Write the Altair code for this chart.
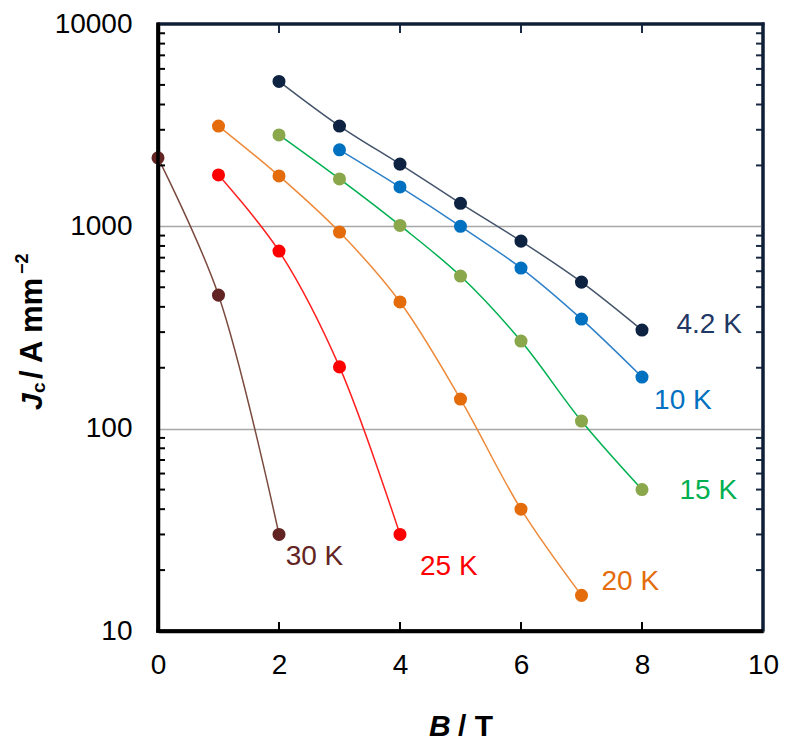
import altair as alt
import pandas as pd

# ---- data ----
B_42 = [2, 3, 4, 5, 6, 7, 8]
J_42 = [5200, 3130, 2030, 1300, 845, 530, 307]
B_10 = [3, 4, 5, 6, 7, 8]
J_10 = [2390, 1565, 1000, 622, 348, 180]
B_15 = [2, 3, 4, 5, 6, 7, 8]
J_15 = [2830, 1715, 1010, 568, 271, 109, 50]
B_20 = [1, 2, 3, 4, 5, 6, 7]
J_20 = [3130, 1775, 937, 423, 140, 40, 15]
B_25 = [1, 2, 3, 4]
J_25 = [1795, 755, 202, 30]
B_30 = [0, 1, 2]
J_30 = [2180, 457, 30]

series_names = ["4.2 K", "10 K", "15 K", "20 K", "25 K", "30 K"]
point_colors = ["#0e2341", "#0070c0", "#8aa84b", "#e46c0a", "#ff0000", "#632523"]
line_colors = ["#44546a", "#2e80c8", "#00b050", "#ee8a3a", "#ff2020", "#7b4a3f"]
label_colors = ["#1f3864", "#0070c0", "#00b050", "#e46c0a", "#ff0000", "#632523"]

# label anchor positions (data coords)
label_B = [8.57, 8.20, 8.62, 7.33, 4.33, 2.11]
label_J = [325, 137, 49.2, 17.5, 20.7, 23.2]

y_major = [10, 100, 1000, 10000]
y_minor = [20, 30, 40, 50, 60, 70, 80, 90,
           200, 300, 400, 500, 600, 700, 800, 900,
           2000, 3000, 4000, 5000, 6000, 7000, 8000, 9000]
x_ticks = [0, 2, 4, 6, 8, 10]
x_inner = [2, 4, 6, 8]

W, H = 605, 607

rows = []
for name, Bs, Js in [("4.2 K", B_42, J_42), ("10 K", B_10, J_10), ("15 K", B_15, J_15),
                     ("20 K", B_20, J_20), ("25 K", B_25, J_25), ("30 K", B_30, J_30)]:
    for b, j in zip(Bs, Js):
        rows.append({"series": name, "B": b, "Jc": j})
df = pd.DataFrame(rows)
lab = pd.DataFrame({"series": series_names, "B": label_B, "Jc": label_J})

xs = alt.Scale(domain=[0, 10], nice=False)
ys = alt.Scale(type="log", domain=[10, 10000], nice=False)

xax = alt.Axis(values=x_ticks, ticks=False, tickSize=0, grid=False, domainColor="black",
               domainWidth=3.5, labelFontSize=28, labelFont="Liberation Sans",
               labelColor="black", labelPadding=20, title=None, labelFlush=False,
               format="d")
yax = alt.Axis(values=y_major, ticks=False, tickSize=0, grid=True, gridColor="#a6a6a6",
               gridWidth=1.3, domainColor="black", domainWidth=3.5, labelFontSize=28,
               labelFont="Liberation Sans", labelColor="black", labelPadding=26,
               title=None, format="d", labelFlush=False)

base = alt.Chart(df)

lines = base.mark_line(interpolate="catmull-rom", strokeWidth=1.5).encode(
    x=alt.X("B:Q", scale=xs, axis=xax),
    y=alt.Y("Jc:Q", scale=ys, axis=yax),
    stroke=alt.Stroke("series:N", scale=alt.Scale(domain=series_names, range=line_colors), legend=None),
    detail="series:N",
)
points = base.mark_point(filled=True, size=170, opacity=1, shape="circle").encode(
    x=alt.X("B:Q", scale=xs),
    y=alt.Y("Jc:Q", scale=ys),
    fill=alt.Fill("series:N", scale=alt.Scale(domain=series_names, range=point_colors), legend=None),
)
labels = alt.Chart(lab).mark_text(align="left", baseline="middle", fontSize=28,
                                  font="Liberation Sans").encode(
    x=alt.X("B:Q", scale=xs),
    y=alt.Y("Jc:Q", scale=ys),
    text="series:N",
    color=alt.Color("series:N", scale=alt.Scale(domain=series_names, range=label_colors), legend=None),
)

minor_df = pd.DataFrame({"v": y_minor})
left_minor = alt.Chart(minor_df).mark_rule(color="black", strokeWidth=2).encode(
    y=alt.Y("v:Q", scale=ys), x=alt.value(0), x2=alt.value(7))
right_minor = alt.Chart(minor_df).mark_rule(color="#1b2a44", strokeWidth=2).encode(
    y=alt.Y("v:Q", scale=ys), x=alt.value(W - 7), x2=alt.value(W))
inner_df = pd.DataFrame({"v": x_inner})
bottom_ticks = alt.Chart(inner_df).mark_rule(color="black", strokeWidth=2).encode(
    x=alt.X("v:Q", scale=xs), y=alt.value(H), y2=alt.value(H - 9))
top_ticks = alt.Chart(inner_df).mark_rule(color="#1b2a44", strokeWidth=2).encode(
    x=alt.X("v:Q", scale=xs), y=alt.value(0), y2=alt.value(9))

# frame lines
one = pd.DataFrame({"k": [0]})
top_border = alt.Chart(one).mark_rule(color="#0e1e36", strokeWidth=3).encode(
    x=alt.value(0), x2=alt.value(W + 1.5), y=alt.value(0))
right_border = alt.Chart(one).mark_rule(color="#0e1e36", strokeWidth=3).encode(
    x=alt.value(W), y=alt.value(-1.5), y2=alt.value(H))
left_border = alt.Chart(one).mark_rule(color="black", strokeWidth=3.5).encode(
    x=alt.value(0), y=alt.value(-1.5), y2=alt.value(H + 1.75))
bottom_border = alt.Chart(one).mark_rule(color="black", strokeWidth=3.5).encode(
    x=alt.value(-1.75), x2=alt.value(W), y=alt.value(H))


def txt(s, x, y, size, bold=True, italic=False, angle=0, baseline="alphabetic"):
    return alt.Chart(pd.DataFrame({"t": [s]})).mark_text(
        align="left", baseline=baseline, fontSize=size, font="Liberation Sans",
        fontWeight="bold" if bold else "normal",
        fontStyle="italic" if italic else "normal", angle=angle, color="black",
    ).encode(text="t:N", x=alt.value(x), y=alt.value(y))


# y-axis title (rotated), pieces placed from bottom to top
ytitle = [
    txt("J", -116, 386, 30, italic=True, angle=270),
    txt("c", -113, 369, 19, angle=270),
    txt("/ A mm", -116, 355, 31, angle=270),
    txt("\u22122", -130, 250, 18, angle=270),
]
# x-axis title
xtitle = [
    txt("B", 271, 712, 30, italic=True),
    txt("/ T", 300, 712, 30),
]

chart = alt.layer(
    lines, points, labels, left_minor, right_minor, bottom_ticks, top_ticks,
    top_border, right_border, left_border, bottom_border,
    *ytitle, *xtitle
).properties(
    width=W, height=H,
    autosize=alt.AutoSizeParams(type="none"),
    padding={"left": 150, "top": 16, "right": 16, "bottom": 110},
).configure(
    background="white",
    view=alt.ViewConfig(stroke="#0e1e36", strokeWidth=3),
)

chart.save("out.html", embed_options={"renderer": "svg", "actions": False})
